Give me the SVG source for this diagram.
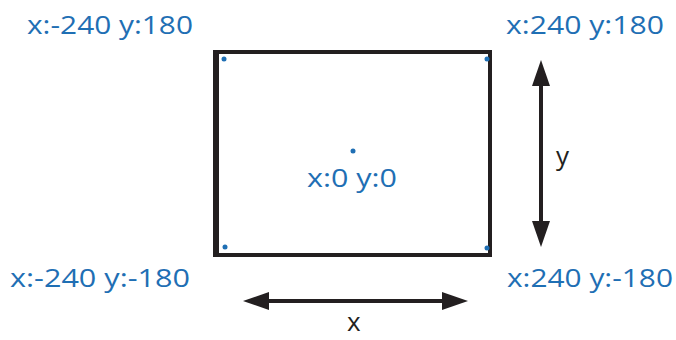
<svg xmlns="http://www.w3.org/2000/svg" width="676" height="340" viewBox="0 0 676 340">
<defs>
<style>
.lbl{font-family:"Open Sans","Noto Sans",sans-serif;font-size:25px;fill:#1f6fb4}
.ax{font-family:"Open Sans","Noto Sans",sans-serif;font-size:26px;fill:#231f20}
.dot{fill:#1f6fb4}
.arr{stroke:#231f20;stroke-width:4;fill:none}
.head{fill:#231f20}
</style>
</defs>
<rect width="676" height="340" fill="#ffffff"/>
<g id="stage">
<rect x="215" y="52" width="275" height="203" fill="none" stroke="#231f20" stroke-width="4"/>
<line x1="216" y1="50" x2="216" y2="257" stroke="#231f20" stroke-width="6"/>
</g>
<g id="top-left">
<circle class="dot" cx="224" cy="59" r="2.5"/>
<text class="lbl" x="27" y="34" textLength="166" lengthAdjust="spacingAndGlyphs">x:-240 y:180</text>
</g>
<g id="top-right">
<circle class="dot" cx="487" cy="59" r="2.5"/>
<text class="lbl" x="506" y="34" textLength="158" lengthAdjust="spacingAndGlyphs">x:240 y:180</text>
</g>
<g id="bottom-left">
<circle class="dot" cx="225" cy="247" r="2.5"/>
<text class="lbl" x="10" y="287" textLength="180" lengthAdjust="spacingAndGlyphs">x:-240 y:-180</text>
</g>
<g id="bottom-right">
<circle class="dot" cx="487" cy="248" r="2.5"/>
<text class="lbl" x="507" y="287" textLength="166" lengthAdjust="spacingAndGlyphs">x:240 y:-180</text>
</g>
<g id="center">
<circle class="dot" cx="353" cy="151" r="2.5"/>
<text class="lbl" x="307" y="187" textLength="90" lengthAdjust="spacingAndGlyphs">x:0 y:0</text>
</g>
<g id="connectors">
<line class="arr" x1="541" y1="80" x2="541" y2="228"/>
<polygon class="head" points="541,60 550,86 532,86"/>
<polygon class="head" points="541,247 550,221 532,221"/>
<line class="arr" x1="262" y1="301" x2="450" y2="301"/>
<polygon class="head" points="243,301 269,292 269,310"/>
<polygon class="head" points="468,301 442,292 442,310"/>
</g>
<g id="labels">
<text class="ax" x="347" y="331">x</text>
<text class="ax" x="556" y="165">y</text>
</g>
</svg>
